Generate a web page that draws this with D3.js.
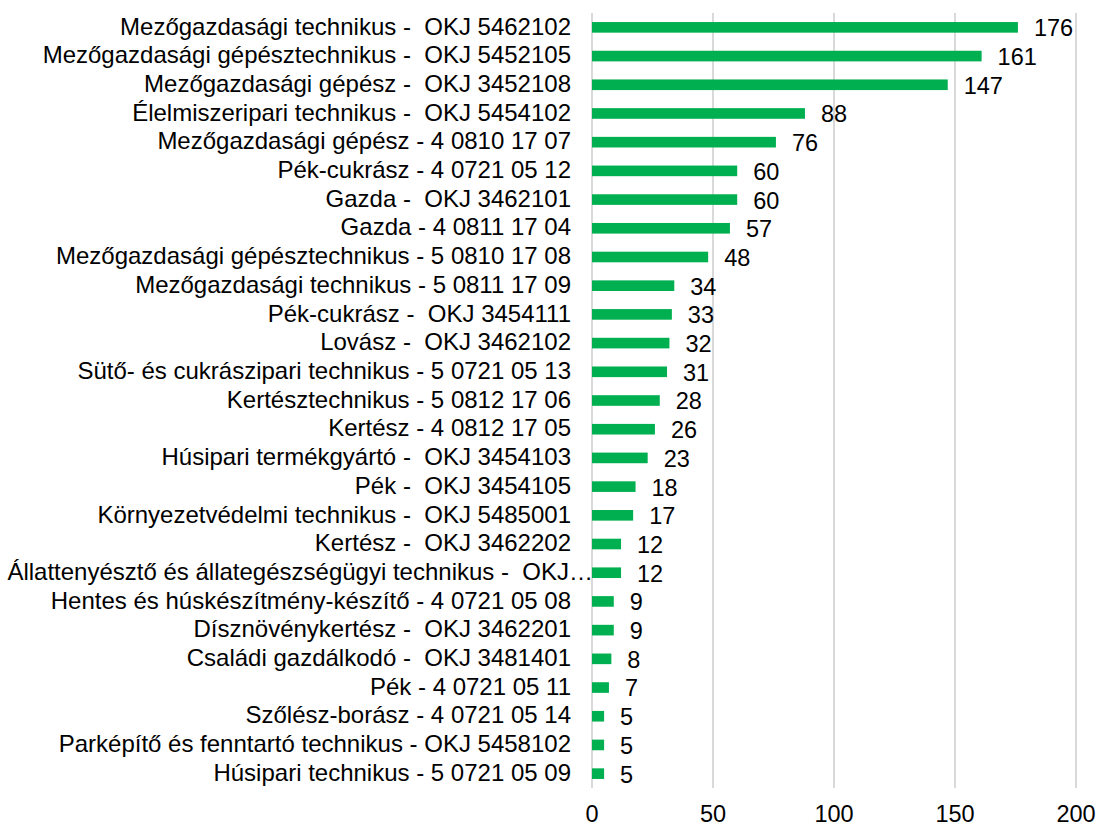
<!DOCTYPE html>
<html lang="hu">
<head>
<meta charset="utf-8">
<title>Szakmák</title>
<script src="https://cdnjs.cloudflare.com/ajax/libs/d3/7.8.5/d3.min.js"></script>
<style>
body { margin: 0; background: #fff; }
text { font-family: "Liberation Sans", Arial, sans-serif; fill: #000; }
</style>
</head>
<body>
<script>
// categories top to bottom
var categories = [
  "Mezőgazdasági technikus -  OKJ 5462102",
  "Mezőgazdasági gépésztechnikus -  OKJ 5452105",
  "Mezőgazdasági gépész -  OKJ 3452108",
  "Élelmiszeripari technikus -  OKJ 5454102",
  "Mezőgazdasági gépész - 4 0810 17 07",
  "Pék-cukrász - 4 0721 05 12",
  "Gazda -  OKJ 3462101",
  "Gazda - 4 0811 17 04",
  "Mezőgazdasági gépésztechnikus - 5 0810 17 08",
  "Mezőgazdasági technikus - 5 0811 17 09",
  "Pék-cukrász -  OKJ 3454111",
  "Lovász -  OKJ 3462102",
  "Sütő- és cukrászipari technikus - 5 0721 05 13",
  "Kertésztechnikus - 5 0812 17 06",
  "Kertész - 4 0812 17 05",
  "Húsipari termékgyártó -  OKJ 3454103",
  "Pék -  OKJ 3454105",
  "Környezetvédelmi technikus -  OKJ 5485001",
  "Kertész -  OKJ 3462202",
  "Állattenyésztő és állategészségügyi technikus -  OKJ…",
  "Hentes és húskészítmény-készítő - 4 0721 05 08",
  "Dísznövénykertész -  OKJ 3462201",
  "Családi gazdálkodó -  OKJ 3481401",
  "Pék - 4 0721 05 11",
  "Szőlész-borász - 4 0721 05 14",
  "Parképítő és fenntartó technikus - OKJ 5458102",
  "Húsipari technikus - 5 0721 05 09"
];
var values = [176, 161, 147, 88, 76, 60, 60, 57, 48, 34, 33, 32, 31, 28, 26, 23, 18, 17, 12, 12, 9, 9, 8, 7, 5, 5, 5];
var ticks = [0, 50, 100, 150, 200];

var w = 1098, h = 826;
var plotLeft = 592, plotRight = 1076, plotTop = 13, plotBottom = 788;
var fs = 24;

var svg = d3.select("body").append("svg")
  .attr("width", w)
  .attr("height", h);

var x = d3.scaleLinear().domain([0, 200]).range([plotLeft, plotRight]);
var y = d3.scaleBand().domain(categories).range([plotTop, plotBottom]).paddingInner(0.63).paddingOuter(0.315);

// gridlines
svg.selectAll("line.grid")
  .data(ticks)
  .enter().append("line")
  .attr("class", "grid")
  .attr("x1", function(d) { return x(d); })
  .attr("x2", function(d) { return x(d); })
  .attr("y1", plotTop)
  .attr("y2", plotBottom)
  .attr("stroke", "#d9d9d9")
  .attr("stroke-width", 2);

// bars
svg.selectAll("rect.bar")
  .data(values)
  .enter().append("rect")
  .attr("class", "bar")
  .attr("x", x(0))
  .attr("y", function(d, i) { return y(categories[i]); })
  .attr("width", function(d) { return x(d) - x(0); })
  .attr("height", y.bandwidth())
  .attr("fill", "#00b050");

// value labels
svg.selectAll("text.val")
  .data(values)
  .enter().append("text")
  .attr("class", "val")
  .attr("x", function(d) { return x(d) + 16; })
  .attr("y", function(d, i) { return y(categories[i]) + y.bandwidth() / 2; })
  .attr("dy", "0.38em")
  .attr("font-size", fs - 0.5)
  .text(function(d) { return d; });

// category labels (the long truncated one runs up to the axis)
svg.selectAll("text.cat")
  .data(categories)
  .enter().append("text")
  .attr("class", "cat")
  .attr("x", 571)
  .attr("y", function(d) { return y(d) + y.bandwidth() / 2; })
  .attr("dy", "0.3em")
  .attr("text-anchor", "end")
  .attr("font-size", fs)
  .style("white-space", "pre")
  .text(function(d) { return d; })
  .each(function() {
    var len = this.getComputedTextLength();
    if (len > 571 - 8) {
      d3.select(this).attr("x", Math.min(593, 8 + len));
    }
  });

// x axis tick labels
svg.selectAll("text.tick")
  .data(ticks)
  .enter().append("text")
  .attr("class", "tick")
  .attr("x", function(d) { return x(d); })
  .attr("y", 822)
  .attr("text-anchor", "middle")
  .attr("font-size", fs - 0.5)
  .text(function(d) { return d; });
</script>
</body>
</html>
